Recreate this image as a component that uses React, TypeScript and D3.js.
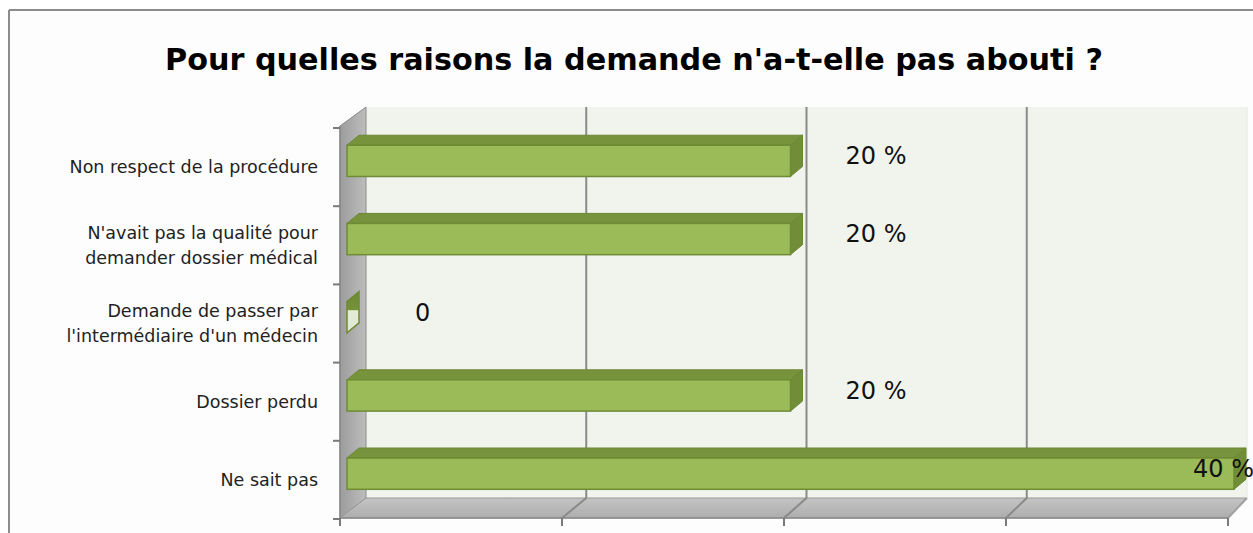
import React from "react";
import * as d3 from "d3";

const categories: string[][] = [
  ["Non respect de la procédure"],
  ["N'avait pas la qualité pour", "demander dossier médical"],
  ["Demande de passer par", "l'intermédiaire d'un médecin"],
  ["Dossier perdu"],
  ["Ne sait pas"],
];
const values: number[] = [20, 20, 0, 20, 40];
const valueLabels: string[] = ["20 %", "20 %", "0", "20 %", "40 %"];
const xTicks: number[] = [0, 10, 20, 30, 40];
const title = "Pour quelles raisons la demande n'a-t-elle pas abouti ?";

const W = 1253;
const H = 533;
const FONT = "'Comic Sans MS', 'DejaVu Sans', sans-serif";

export default function App() {
  const keys = categories.map((_, i) => String(i));
  const yBand = d3.scaleBand<string>().domain(keys).range([128, 519]).padding(0);
  const bw = yBand.bandwidth();
  const xFront = d3.scaleLinear().domain([0, 40]).range([340, 1228]);
  const xBack = d3.scaleLinear().domain([0, 40]).range([366, 1247]);
  const xBar = d3.scaleLinear().domain([0, 40]).range([347, 1234]);
  const backTop = 107;
  const backBottom = 498;
  const frontBottom = 518;
  const sideFrontTop = 126;
  const bdx = 12;
  const bdy = 10;

  const poly = (pts: [number, number][]) => pts.map((p) => p.join(",")).join(" ");

  return (
    <svg width={W} height={H} style={{ position: "absolute", left: 0, top: 0, display: "block" }}>
      <defs>
        <linearGradient id="sideGrad" x1="0" y1="0" x2="1" y2="0">
          <stop offset="0" stopColor="#9c9c9c" />
          <stop offset="1" stopColor="#bdbdbd" />
        </linearGradient>
        <linearGradient id="floorGrad" x1="0" y1="0" x2="0" y2="1">
          <stop offset="0" stopColor="#c4c4c4" />
          <stop offset="1" stopColor="#adadad" />
        </linearGradient>
        <linearGradient id="zeroGrad" x1="0" y1="0" x2="0" y2="1">
          <stop offset="0" stopColor="#6f8a35" />
          <stop offset="0.45" stopColor="#76923c" />
          <stop offset="0.46" stopColor="#e4ecd6" />
          <stop offset="1" stopColor="#dfe8cf" />
        </linearGradient>
      </defs>
      <rect x={0} y={0} width={W} height={H} fill="#ffffff" />
      <rect x={9} y={10} width={W} height={H} fill="#fdfdfd" />
      <line x1={9} y1={10} x2={W} y2={10} stroke="#8c8c8c" strokeWidth={2} />
      <line x1={9} y1={10} x2={9} y2={H} stroke="#8c8c8c" strokeWidth={2} />

      <text
        x={634}
        y={70}
        textAnchor="middle"
        fontFamily={FONT}
        fontWeight="bold"
        fontSize={31}
        textLength={938}
        lengthAdjust="spacingAndGlyphs"
        fill="#000"
      >
        {title}
      </text>

      {/* back wall */}
      <rect
        x={xBack(0)}
        y={backTop}
        width={xBack(40) - xBack(0)}
        height={backBottom - backTop}
        fill="#f0f4ec"
      />
      {/* side wall */}
      <polygon
        points={poly([
          [xFront(0), sideFrontTop],
          [xBack(0), backTop],
          [xBack(0), backBottom],
          [xFront(0), frontBottom],
        ])}
        fill="url(#sideGrad)"
        stroke="#8a8a8a"
        strokeWidth={1}
      />
      {/* floor */}
      <polygon
        points={poly([
          [xFront(0), frontBottom],
          [xBack(0), backBottom],
          [xBack(40), backBottom],
          [xFront(40), frontBottom],
        ])}
        fill="url(#floorGrad)"
        stroke="#9a9a9a"
        strokeWidth={1}
      />

      {/* gridlines */}
      {xTicks.slice(1).map((v) => (
        <polyline
          key={"g" + v}
          points={poly([
            [xBack(v), v === 40 ? backBottom : backTop],
            [xBack(v), backBottom],
            [xFront(v), frontBottom],
          ])}
          fill="none"
          stroke={v === 40 ? "#a0a0a0" : "#8a8a8a"}
          strokeWidth={2}
        />
      ))}
      <line x1={xBack(40)} y1={backTop} x2={xBack(40)} y2={backBottom} stroke="#e4e8df" strokeWidth={1} />

      {/* bottom axis */}
      <line x1={xFront(0)} y1={frontBottom} x2={xFront(40)} y2={frontBottom} stroke="#8a8a8a" strokeWidth={1.5} />
      {xTicks.map((v) => (
        <line
          key={"t" + v}
          x1={xFront(v)}
          y1={frontBottom}
          x2={xFront(v)}
          y2={frontBottom + 8}
          stroke="#7a7a7a"
          strokeWidth={2}
        />
      ))}

      {/* left axis */}
      <line x1={xFront(0)} y1={sideFrontTop} x2={xFront(0)} y2={frontBottom} stroke="#8a8a8a" strokeWidth={1.5} />
      {d3.range(categories.length + 1).map((k) => {
        const y = 128 + k * bw;
        return (
          <line key={"ct" + k} x1={xFront(0) - 7} y1={y} x2={xFront(0)} y2={y} stroke="#7a7a7a" strokeWidth={2} />
        );
      })}

      {/* category labels */}
      {categories.map((lines, i) => {
        const cy = (yBand(String(i)) as number) + bw / 2;
        const lh = 25;
        const start = cy - ((lines.length - 1) * lh) / 2;
        return (
          <text
            key={"c" + i}
            x={318}
            textAnchor="end"
            fontFamily={FONT}
            fontSize={17.5}
            fill="#222"
          >
            {lines.map((l, j) => (
              <tspan key={j} x={318} y={start + j * lh + 6}>
                {l}
              </tspan>
            ))}
          </text>
        );
      })}

      {/* bars */}
      {values.map((v, i) => {
        const y = (yBand(String(i)) as number) + bw * 0.22;
        const h = bw * 0.4;
        const x0 = xBar(0);
        const x1 = xBar(v);
        if (v === 0) {
          return (
            <polygon
              key={"b" + i}
              points={poly([
                [x0, y],
                [x0 + bdx, y - bdy],
                [x0 + bdx, y + h - bdy],
                [x0, y + h],
              ])}
              fill="url(#zeroGrad)"
              stroke="#6f8a35"
              strokeWidth={1.5}
            />
          );
        }
        return (
          <g key={"b" + i}>
            <polygon
              points={poly([
                [x0, y],
                [x0 + bdx, y - bdy],
                [x1 + bdx, y - bdy],
                [x1, y],
              ])}
              fill="#77933c"
              stroke="#6b8732"
              strokeWidth={1}
            />
            <polygon
              points={poly([
                [x1, y],
                [x1 + bdx, y - bdy],
                [x1 + bdx, y + h - bdy],
                [x1, y + h],
              ])}
              fill="#718d37"
              stroke="#6b8732"
              strokeWidth={1}
            />
            <rect x={x0} y={y} width={x1 - x0} height={h} fill="#9bbb59" stroke="#6e8b35" strokeWidth={1.5} />
          </g>
        );
      })}

      {/* value labels */}
      {values.map((v, i) => {
        const y = (yBand(String(i)) as number) + bw * 0.22 + 19;
        const x = Math.min(xBar(v) + 55 + (v === 0 ? 13 : 0), W - 60);
        return (
          <text key={"v" + i} x={x} y={y} fontFamily={FONT} fontSize={24} fill="#111">
            {valueLabels[i]}
          </text>
        );
      })}
    </svg>
  );
}
